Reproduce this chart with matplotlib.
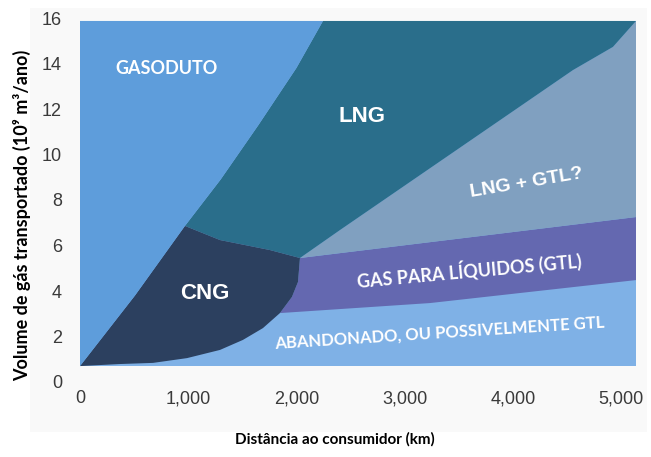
import matplotlib.pyplot as plt
import numpy as np
from matplotlib.patches import Rectangle

# region boundaries (km, 10^9 m3/ano)
x_max = 5139
y_bottom = 0.7
y_top = 15.87

pipe_edge_x = [0, 508, 970, 1300, 1650, 2000, 2246]
pipe_edge_y = [0.7, 3.8, 6.86, 8.9, 11.3, 13.8, 15.87]

cng_top_x = [970, 1294, 1756, 2033]
cng_top_y = [6.86, 6.24, 5.80, 5.45]

cng_curve_x = [2033, 2015, 1959, 1848, 1691, 1506, 1294, 989, 675, 370, 0]
cng_curve_y = [5.45, 4.40, 3.74, 3.03, 2.37, 1.85, 1.41, 1.05, 0.84, 0.79, 0.7]

lng_edge_x = [2033, 2403, 4556, 4926, 5139]
lng_edge_y = [5.45, 6.68, 13.71, 14.73, 15.87]

gtl_top_x = [2033, 5139]
gtl_top_y = [5.45, 7.25]

gtl_bottom_x = [1848, 3235, 5139]
gtl_bottom_y = [3.03, 3.47, 4.48]

x_ticks = [0, 1000, 2000, 3000, 4000, 5000]
x_tick_labels = ['0', '1,000', '2,000', '3,000', '4,000', '5,000']
y_ticks = [0, 2, 4, 6, 8, 10, 12, 14, 16]

colors = {
    'gasoduto': '#5e9ddb',
    'lng': '#2a6e8b',
    'cng': '#2c405f',
    'lng_gtl': '#80a0c0',
    'gtl': '#6468b0',
    'abandonado': '#7fb1e6',
}

fig = plt.figure(figsize=(6.51, 4.57), dpi=100)
fig.patches.append(Rectangle((0.046, 0.055), 0.948, 0.928, transform=fig.transFigure,
                             facecolor='#f9f9f9', edgecolor='none', zorder=-10))
ax = fig.add_axes([80 / 651, 75 / 457, 556 / 651, 364 / 457])
ax.set_facecolor('none')

# background band: abandonado
ax.fill([0, x_max, x_max, 0], [y_bottom, y_bottom, y_top, y_top],
        color=colors['abandonado'], lw=0)

# GTL band (bottom edge, right side, top edge, down the CNG curve)
gx = np.concatenate([gtl_bottom_x, gtl_top_x[::-1], cng_curve_x[1:4]])
gy = np.concatenate([gtl_bottom_y, gtl_top_y[::-1], cng_curve_y[1:4]])
ax.fill(gx, gy, color=colors['gtl'], lw=0)

# LNG + GTL?
lx = np.concatenate([gtl_top_x, lng_edge_x[::-1]])
ly = np.concatenate([gtl_top_y, lng_edge_y[::-1]])
ax.fill(lx, ly, color=colors['lng_gtl'], lw=0)

# LNG
nx = np.concatenate([lng_edge_x, pipe_edge_x[:1:-1], cng_top_x[1:]])
ny = np.concatenate([lng_edge_y, pipe_edge_y[:1:-1], cng_top_y[1:]])
ax.fill(nx, ny, color=colors['lng'], lw=0)

# CNG
cx = np.concatenate([pipe_edge_x[:3], cng_top_x[1:], cng_curve_x[1:]])
cy = np.concatenate([pipe_edge_y[:3], cng_top_y[1:], cng_curve_y[1:]])
ax.fill(cx, cy, color=colors['cng'], lw=0)

# pipeline
px = np.concatenate([pipe_edge_x, [0]])
py = np.concatenate([pipe_edge_y, [y_top]])
ax.fill(px, py, color=colors['gasoduto'], lw=0)

calibri = ['Lato', 'DejaVu Sans']
arial = ['Liberation Sans', 'DejaVu Sans']
ax.text(804, 13.8, 'GASODUTO', color='white', fontsize=13, fontweight='bold',
        family=calibri, ha='center', va='center')
ax.text(2606, 11.65, 'LNG', color='white', fontsize=16, fontweight='bold',
        family=arial, ha='center', va='center')
ax.text(1155, 3.9, 'CNG', color='white', fontsize=16, fontweight='bold',
        family=arial, ha='center', va='center')
ax.text(4131, 8.75, 'LNG + GTL?', color='white', fontsize=14, fontweight='bold',
        family=arial, ha='center', va='center', rotation=9.6, rotation_mode='anchor')
ax.text(3595, 4.92, 'GAS PARA LÍQUIDOS (GTL)', color='white', fontsize=13,
        fontweight='bold', family=calibri, ha='center', va='center',
        rotation=5.2, rotation_mode='anchor')
ax.text(3327, 2.15, 'ABANDONADO, OU POSSIVELMENTE GTL', color='white', fontsize=12,
        fontweight='bold', family=calibri, ha='center', va='center',
        rotation=3.7, rotation_mode='anchor')

ax.set_xlim(0, x_max)
ax.set_ylim(0, 16)
ax.set_xticks(x_ticks)
ax.set_xticklabels(x_tick_labels)
ax.set_yticks(y_ticks)
ax.tick_params(length=0, labelsize=13, colors='#3a3a3a')
ax.tick_params(axis='y', pad=13)
ax.tick_params(axis='x', pad=6)
for lab in ax.get_xticklabels() + ax.get_yticklabels():
    lab.set_family(arial)
for s in ax.spines.values():
    s.set_visible(False)

ax.set_xlabel('Distância ao consumidor (km)', fontsize=11, fontweight='bold',
              family=calibri, color='black')
ax.xaxis.set_label_coords(0.459, -0.137)
ax.set_ylabel('Volume de gás transportado (10⁹ m³/ano)', fontsize=13,
              fontweight='bold', family=calibri, color='black')
ax.yaxis.set_label_coords(-0.088, 0.459)

fig.savefig('out.png', dpi=100)
